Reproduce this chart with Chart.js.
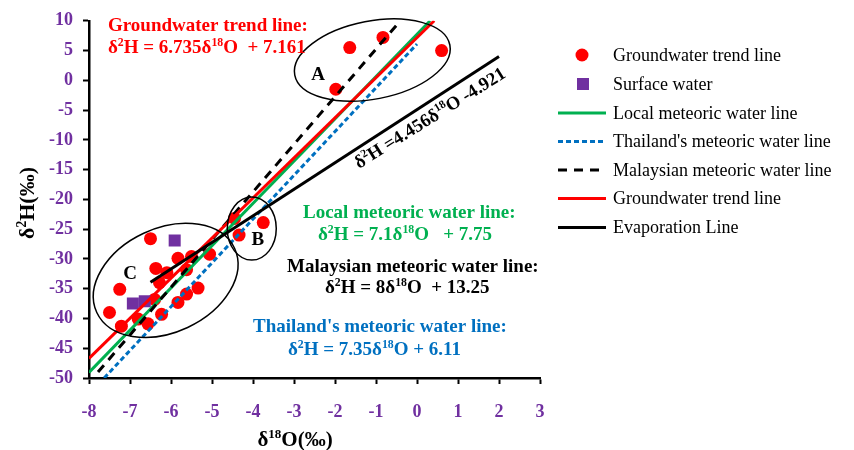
<!DOCTYPE html>
<html>
<head>
<meta charset="utf-8">
<script src="https://cdn.jsdelivr.net/npm/chart.js@4.4.1/dist/chart.umd.min.js"></script>
<style>
  body { margin: 0; background: #fff; }
  #wrap { width: 854px; height: 450px; }
</style>
</head>
<body>
<div id="wrap"><canvas id="myChart"></canvas></div>
<script>
// groundwater samples (delta 18O, delta 2H)
const gwX = [-1.98, -1.64, -0.83, 0.6,
  -3.75, -4.34, -4.45,
  -6.50, -5.83, -5.50, -5.06, -6.37, -6.10, -5.62, -6.28, -7.25, -5.34,
  -5.62, -5.83, -6.40, -7.50, -6.80, -6.23, -6.56, -7.21];
const gwY = [-1.5, 5.5, 7.2, 5.0,
  -23.9, -26.0, -23.2,
  -26.6, -29.9, -29.6, -29.2, -31.6, -32.3, -31.8, -34.0, -35.1, -34.9,
  -35.9, -37.3, -36.8, -39.0, -40.1, -39.3, -40.9, -41.3];

// surface water samples
const swX = [-5.91, -6.93, -6.64];
const swY = [-26.9, -37.5, -37.1];

// line end points
const localX = [-8, 0.32];
const localY = [-49.05, 10];
const thaiX = [-7.63, 0];
const thaiY = [-50, 6.11];
const malayX = [-7.78, -0.42];
const malayY = [-49, 9.9];
const trendX = [-8, 0.42];
const trendY = [-46.72, 10];
const evapX = [-6.5, 2];
const evapY = [-33.9, 4.0];

const legendLabels = ["Groundwater trend line", "Surface water", "Local meteoric water line",
  "Thailand's meteoric water line", "Malaysian meteoric water line",
  "Groundwater trend line", "Evaporation Line"];

const RED = "#FF0000", GREEN = "#00B050", BLUE = "#0070C0", PURPLE = "#7030A0", BLACK = "#000000";
const SERIF = '"Liberation Serif", "Times New Roman", serif';

const pts = (xs, ys) => xs.map((x, i) => ({ x: x, y: ys[i] }));

// text with superscripts: plain strings, or [text] for superscript
function richWidth(ctx, parts, size, bold) {
  let w = 0;
  parts.forEach(p => {
    const sup = Array.isArray(p);
    ctx.font = (bold ? "bold " : "") + (sup ? size * 0.62 : size) + "px " + SERIF;
    w += ctx.measureText(sup ? p[0] : p).width;
  });
  return w;
}
function richText(ctx, parts, x, y, size, color, bold, align) {
  let cx = x;
  if (align === "center") cx = x - richWidth(ctx, parts, size, bold) / 2;
  ctx.fillStyle = color;
  ctx.textBaseline = "alphabetic";
  ctx.textAlign = "left";
  parts.forEach(p => {
    const sup = Array.isArray(p);
    const t = sup ? p[0] : p;
    ctx.font = (bold ? "bold " : "") + (sup ? size * 0.62 : size) + "px " + SERIF;
    ctx.fillText(t, cx, sup ? y - size * 0.38 : y);
    cx += ctx.measureText(t).width;
  });
}

const extras = {
  id: "extras",
  afterDatasetsDraw(chart) {
    const ctx = chart.ctx;
    const xs = chart.scales.x, ys = chart.scales.y;
    ctx.save();

    // group ellipses
    const ellipses = [
      { x: -1.09, y: 3.4, rx: 79, ry: 39, rot: -11 },
      { x: -4.03, y: -24.9, rx: 24.5, ry: 31.5, rot: 0 },
      { x: -6.13, y: -33.6, rx: 76, ry: 52, rot: -25 }
    ];
    ctx.strokeStyle = BLACK;
    ctx.lineWidth = 1.5;
    ellipses.forEach(e => {
      ctx.beginPath();
      ctx.ellipse(xs.getPixelForValue(e.x), ys.getPixelForValue(e.y), e.rx, e.ry, e.rot * Math.PI / 180, 0, Math.PI * 2);
      ctx.stroke();
    });
    ctx.font = "bold 19px " + SERIF;
    ctx.fillStyle = BLACK;
    ctx.textAlign = "center";
    ctx.textBaseline = "middle";
    ctx.fillText("A", xs.getPixelForValue(-2.41), ys.getPixelForValue(0.86));
    ctx.fillText("B", xs.getPixelForValue(-3.88), ys.getPixelForValue(-26.8));
    ctx.fillText("C", xs.getPixelForValue(-7.0), ys.getPixelForValue(-32.6));

    // equations
    richText(ctx, ["Groundwater trend line:"], 108, 31, 19, RED, true);
    richText(ctx, ["δ", ["2"], "H = 6.735δ", ["18"], "O  + 7.161"], 108, 53, 19, RED, true);
    richText(ctx, ["Local meteoric water line:"], 303, 218, 19, GREEN, true);
    richText(ctx, ["δ", ["2"], "H = 7.1δ", ["18"], "O   + 7.75"], 318, 240, 19, GREEN, true);
    richText(ctx, ["Malaysian meteoric water line:"], 287, 272, 19, BLACK, true);
    richText(ctx, ["δ", ["2"], "H = 8δ", ["18"], "O  + 13.25"], 325, 293, 19, BLACK, true);
    richText(ctx, ["Thailand's meteoric water line:"], 253, 332, 19, BLUE, true);
    richText(ctx, ["δ", ["2"], "H = 7.35δ", ["18"], "O + 6.11"], 288, 355, 19, BLUE, true);

    ctx.save();
    ctx.translate(359, 169);
    ctx.rotate(-32 * Math.PI / 180);
    richText(ctx, ["δ", ["2"], "H =4.456δ", ["18"], "O -4.921"], 0, 0, 18.5, BLACK, true);
    ctx.restore();

    // axis titles
    richText(ctx, ["δ", ["18"], "O(‰)"], 295, 446, 21, BLACK, true, "center");
    ctx.save();
    ctx.translate(34, 203);
    ctx.rotate(-Math.PI / 2);
    richText(ctx, ["δ", ["2"], "H(‰)"], 0, 0, 22, BLACK, true, "center");
    ctx.restore();

    // legend
    const rows = [55, 84, 113, 141.5, 170, 198.5, 227.5];
    const styles = [
      { kind: "circle", color: RED },
      { kind: "square", color: PURPLE },
      { kind: "line", color: GREEN, dash: [] },
      { kind: "line", color: BLUE, dash: [5, 3] },
      { kind: "line", color: BLACK, dash: [9, 7] },
      { kind: "line", color: RED, dash: [] },
      { kind: "line", color: BLACK, dash: [] }
    ];
    styles.forEach((s, i) => {
      const y = rows[i];
      if (s.kind === "circle") {
        ctx.fillStyle = s.color;
        ctx.beginPath();
        ctx.arc(582, y, 6.5, 0, Math.PI * 2);
        ctx.fill();
      } else if (s.kind === "square") {
        ctx.fillStyle = s.color;
        ctx.fillRect(577, y - 6, 12, 12);
      } else {
        ctx.strokeStyle = s.color;
        ctx.lineWidth = 3;
        ctx.setLineDash(s.dash);
        ctx.beginPath();
        ctx.moveTo(558, y);
        ctx.lineTo(606, y);
        ctx.stroke();
        ctx.setLineDash([]);
      }
      ctx.fillStyle = BLACK;
      ctx.font = "18px " + SERIF;
      ctx.textAlign = "left";
      ctx.textBaseline = "middle";
      ctx.fillText(legendLabels[i], 613, y + 1);
    });
    ctx.restore();
  }
};

document.addEventListener("DOMContentLoaded", () => {
  const ctx = document.getElementById("myChart");
  const lineSet = (label, xs, ys, color, dash, order) => ({
    label: label,
    data: pts(xs, ys),
    showLine: true,
    borderColor: color,
    borderWidth: 3,
    borderDash: dash,
    pointRadius: 0,
    fill: false,
    order: order
  });
  new Chart(ctx, {
    type: "scatter",
    data: {
      datasets: [
        {
          label: legendLabels[0],
          data: pts(gwX, gwY),
          pointStyle: "circle",
          pointRadius: 6.5,
          backgroundColor: RED,
          borderWidth: 0,
          order: 10
        },
        {
          label: legendLabels[1],
          data: pts(swX, swY),
          pointStyle: "rect",
          pointRadius: 8.5,
          backgroundColor: PURPLE,
          borderWidth: 0,
          order: 9
        },
        lineSet(legendLabels[2], localX, localY, GREEN, [], 4),
        lineSet(legendLabels[3], thaiX, thaiY, BLUE, [5, 3], 5),
        lineSet(legendLabels[4], malayX, malayY, BLACK, [9, 7], 3),
        lineSet(legendLabels[5], trendX, trendY, RED, [], 2),
        lineSet(legendLabels[6], evapX, evapY, BLACK, [], 1)
      ]
    },
    options: {
      responsive: true,
      maintainAspectRatio: false,
      animation: false,
      layout: { padding: { left: 0, right: 314, top: 17, bottom: 0 } },
      plugins: {
        legend: { display: false },
        tooltip: { enabled: false }
      },
      scales: {
        x: {
          type: "linear",
          min: -8,
          max: 3,
          afterFit: (scale) => { scale.height = 72; },
          ticks: {
            stepSize: 1,
            color: PURPLE,
            padding: 18,
            font: { family: SERIF, size: 18, weight: "bold" }
          },
          grid: { drawOnChartArea: false, tickLength: 6, tickColor: BLACK, tickWidth: 2 },
          border: { color: BLACK, width: 2.5 }
        },
        y: {
          type: "linear",
          min: -50,
          max: 10,
          afterFit: (scale) => { scale.width = 89; },
          ticks: {
            stepSize: 5,
            color: PURPLE,
            padding: 10,
            font: { family: SERIF, size: 18, weight: "bold" }
          },
          grid: { drawOnChartArea: false, tickLength: 6, tickColor: BLACK, tickWidth: 2 },
          border: { color: BLACK, width: 2.5 }
        }
      }
    },
    plugins: [extras]
  });
});
</script>
</body>
</html>
